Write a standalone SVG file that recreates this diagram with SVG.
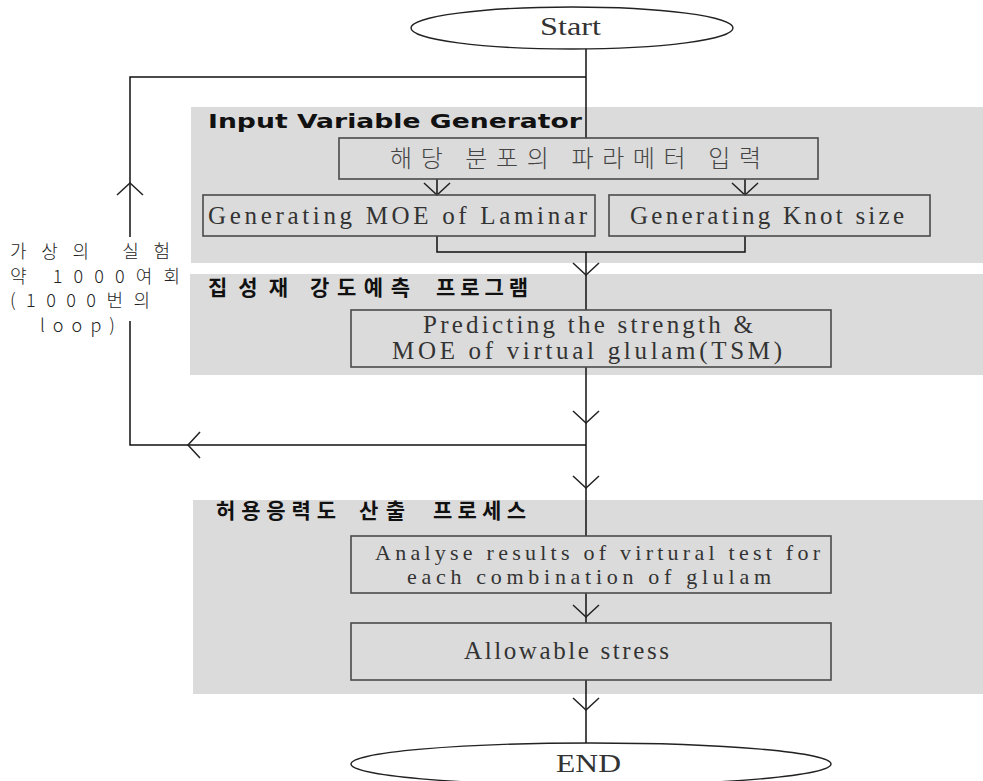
<svg xmlns="http://www.w3.org/2000/svg" width="983" height="781" viewBox="0 0 983 781">
  <style>
    .panel { fill: #dbdbdb; stroke: none; }
    .box { fill: none; stroke: #4a4a4a; stroke-width: 1.6; }
    .term { fill: #ffffff; stroke: #222; stroke-width: 1.4; }
    .lbl { font-family: "Liberation Serif", "DejaVu Serif", serif; font-size: 25px; fill: #333; }
    .lbl.tight { font-size: 22px; }
    .kbox { font-family: "Noto Sans CJK KR", "Noto Sans", sans-serif; font-size: 24px; font-weight: 300; fill: #444; }
    .head { font-family: "DejaVu Sans", "Liberation Sans", sans-serif; font-size: 19px; font-weight: bold; fill: #111; }
    .khead { font-family: "Noto Sans CJK KR", "Noto Sans", sans-serif; font-size: 21px; font-weight: bold; fill: #111; }
    .side { font-family: "Noto Sans CJK KR", "Noto Sans", sans-serif; font-size: 18px; font-weight: 300; fill: #222; }
    .wire { fill: none; stroke: #111; stroke-width: 1.5; }
  </style>
  <defs>
    <marker id="chev" viewBox="-14 -15 28 30" markerUnits="userSpaceOnUse" markerWidth="28" markerHeight="30" refX="0" refY="0" orient="auto" overflow="visible">
      <path d="M-12,-13 L0,0 L-12,13" fill="none" stroke="#222" stroke-width="1.5"/>
    </marker>
  </defs>

  <rect width="983" height="781" fill="#ffffff"/>

  <!-- shaded stage panels -->
  <g id="panel-input">
    <rect class="panel" x="191" y="107" width="792" height="156"/>
    <text class="head" x="208" y="128" textLength="374" lengthAdjust="spacingAndGlyphs">Input Variable Generator</text>
  </g>
  <g id="panel-strength">
    <rect class="panel" x="190" y="274" width="793" height="101"/>
    <text class="khead" y="295"><tspan x="208" textLength="80" lengthAdjust="spacing">집성재</tspan><tspan x="310" textLength="100" lengthAdjust="spacing">강도예측</tspan><tspan x="436" textLength="92" lengthAdjust="spacing">프로그램</tspan></text>
  </g>
  <g id="panel-allowable">
    <rect class="panel" x="193" y="500" width="790" height="194"/>
    <text class="khead" y="518"><tspan x="216" textLength="120" lengthAdjust="spacing">허용응력도</tspan><tspan x="359" textLength="46" lengthAdjust="spacing">산출</tspan><tspan x="433" textLength="93" lengthAdjust="spacing">프로세스</tspan></text>
  </g>

  <!-- connectors -->
  <g id="connectors">
    <path class="wire" d="M586,48 V138"/>
    <path class="wire" d="M437,179 V195" marker-end="url(#chev)"/>
    <path class="wire" d="M745,179 V195" marker-end="url(#chev)"/>
    <path class="wire" d="M437,236 V252 H745 V236"/>
    <path class="wire" d="M586,252 V275" marker-end="url(#chev)"/>
    <path class="wire" d="M586,275 V310"/>
    <path class="wire" d="M586,367 V423" marker-end="url(#chev)"/>
    <path class="wire" d="M586,423 V488" marker-end="url(#chev)"/>
    <path class="wire" d="M586,488 V536"/>
    <path class="wire" d="M586,593 V617" marker-end="url(#chev)"/>
    <path class="wire" d="M586,617 V623"/>
    <path class="wire" d="M586,680 V710" marker-end="url(#chev)"/>
    <path class="wire" d="M586,710 V743"/>
    <!-- repeat loop -->
    <path class="wire" d="M586,445 H188" marker-end="url(#chev)"/>
    <path class="wire" d="M188,445 H130 V321"/>
    <path class="wire" d="M130,237 V183" marker-end="url(#chev)"/>
    <path class="wire" d="M130,183 V77 H586"/>
  </g>

  <g id="loop-label">
    <text class="side" x="10" y="258" textLength="160" lengthAdjust="spacing">가상의 실험</text>
    <text class="side" x="10" y="283" textLength="170" lengthAdjust="spacing">약 1000여회</text>
    <text class="side" x="10" y="307" textLength="140" lengthAdjust="spacing">(1000번의</text>
    <text class="side" x="40" y="332" textLength="75" lengthAdjust="spacing">loop)</text>
  </g>

  <g id="start">
    <ellipse class="term" cx="572" cy="28" rx="161" ry="21"/>
    <text class="lbl" x="540" y="35" textLength="61" lengthAdjust="spacingAndGlyphs" fill="#111">Start</text>
  </g>

  <g id="param-input">
    <rect class="box" x="339" y="138" width="479" height="41"/>
    <text class="kbox" x="390" y="167" textLength="371" lengthAdjust="spacing">해당 분포의 파라메터 입력</text>
  </g>

  <g id="gen-moe">
    <rect class="box" x="203" y="195" width="392" height="41"/>
    <text class="lbl" x="208" y="224" textLength="379" lengthAdjust="spacing">Generating MOE of Laminar</text>
  </g>

  <g id="gen-knot">
    <rect class="box" x="609" y="195" width="321" height="41"/>
    <text class="lbl" x="630" y="224" textLength="274" lengthAdjust="spacing">Generating Knot size</text>
  </g>

  <g id="predict">
    <rect class="box" x="351" y="310" width="480" height="57"/>
    <text class="lbl" x="423" y="333" textLength="330" lengthAdjust="spacing">Predicting the strength &amp;</text>
    <text class="lbl" x="392" y="359" textLength="390" lengthAdjust="spacing">MOE of virtual glulam(TSM)</text>
  </g>

  <g id="analyse">
    <rect class="box" x="351" y="536" width="480" height="57"/>
    <text class="lbl tight" x="375" y="560" textLength="445" lengthAdjust="spacing">Analyse results of virtural test for</text>
    <text class="lbl tight" x="407" y="584" textLength="364" lengthAdjust="spacing">each combination of glulam</text>
  </g>

  <g id="allowable">
    <rect class="box" x="351" y="623" width="480" height="57"/>
    <text class="lbl" x="464" y="659" textLength="205" lengthAdjust="spacing">Allowable stress</text>
  </g>

  <g id="end">
    <ellipse class="term" cx="591" cy="764" rx="240" ry="21"/>
    <text class="lbl" x="556" y="772" textLength="65" lengthAdjust="spacingAndGlyphs" fill="#111">END</text>
  </g>
</svg>
